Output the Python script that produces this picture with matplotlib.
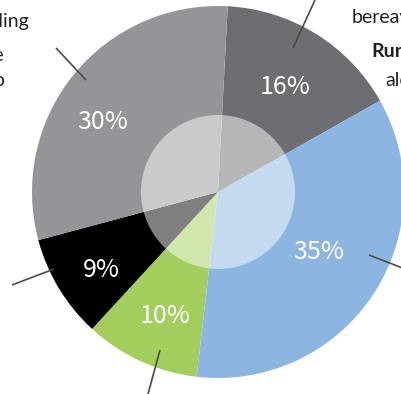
import matplotlib

matplotlib.use("Agg")
import matplotlib.pyplot as plt
from matplotlib.patches import Circle

plt.rcParams["font.family"] = ["Lato", "DejaVu Sans"]

# ── data ──
shares = [16, 35, 10, 9, 30]
labels = ["16%", "35%", "10%", "9%", "30%"]
colors = ["#6d6e71", "#8cb6e1", "#a3cd5c", "#000000", "#939598"]

# label positions (pixel space, y up) and leader lines
label_pos = [(285, 307), (319, 142), (165, 78), (101, 124), (103, 272)]
leaders = [
    ((293, 346), (315, 394)),
    ((369, 139), (405, 125)),
    ((160, 44), (148, 0)),
    ((54, 125), (12, 109)),
    ((86, 314), (56, 346)),
]

W, H = 401, 394
CX, CY, R = 218, 202, 186
BG = "white"
LINE = "#4a4a4c"
TXT = "#231f20"

fig = plt.figure(figsize=(W / 100, H / 100), dpi=100, facecolor=BG)
ax = fig.add_axes([0, 0, 1, 1])

ax.pie(
    shares,
    colors=colors,
    startangle=87,
    counterclock=False,
    center=(CX, CY),
    radius=R,
    frame=True,
    wedgeprops={"linewidth": 0},
)
ax.set_xlim(0, W)
ax.set_ylim(0, H)
ax.set_aspect("equal")
ax.axis("off")

# 中心半透明圆
ax.add_patch(Circle((CX, CY), 77, facecolor="white", alpha=0.5, linewidth=0))

for (x, y), lab in zip(label_pos, labels):
    ax.text(x, y, lab, ha="center", va="center", fontsize=18, color="white",
            family=["Noto Sans CJK SC", "Lato"], fontweight="light")

for (x0, y0), (x1, y1) in leaders:
    ax.plot([x0, x1], [y0, y1], color=LINE, linewidth=1.2, solid_capstyle="butt",
            clip_on=False)

# cut-off captions at edges
ax.text(30, 367, "Travelling", ha="right", va="baseline", fontsize=14, color=TXT)
ax.text(4, 333, "alone", ha="right", va="baseline", fontsize=14, color=TXT)
ax.text(6, 308, "no", ha="right", va="baseline", fontsize=14, color=TXT)
ax.text(352, 371, "bereavement", ha="left", va="baseline", fontsize=14, color=TXT)
ax.text(371, 337, "Rural", ha="left", va="baseline", fontsize=14, color=TXT,
        fontweight="bold")
ax.text(385, 308, "alone", ha="left", va="baseline", fontsize=14, color=TXT)

fig.savefig("out.png", dpi=100, facecolor=BG)
plt.close()
